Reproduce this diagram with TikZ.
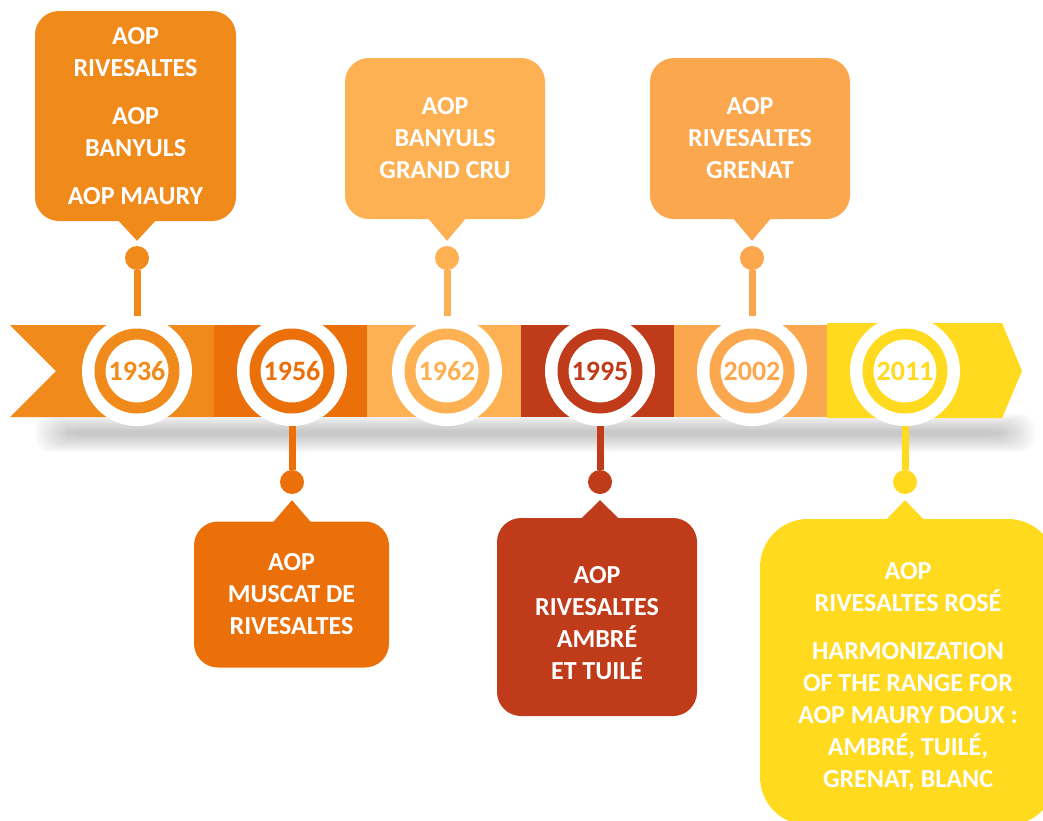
\documentclass[tikz,border=0pt]{standalone}
\usepackage{fontspec}
\setmainfont{Carlito}
\usetikzlibrary{calc}
\definecolor{cA}{HTML}{F08A1A}
\definecolor{cB}{HTML}{EC700A}
\definecolor{cC}{HTML}{FDB153}
\definecolor{cD}{HTML}{BF3B1A}
\definecolor{cE}{HTML}{FBA74E}
\definecolor{cF}{HTML}{FFDA1E}
\begin{document}
\begin{tikzpicture}[x=1pt,y=-1pt,
  yearnode/.style={circle,fill=white,minimum size=110pt,inner sep=0pt,
    font=\fontsize{28}{30}\selectfont\bfseries},
  dot/.style={circle,inner sep=0pt,minimum size=24pt},
  stem/.style={line width=7pt},
  boxtext/.style={inner sep=0pt,text=white,align=center,
    font=\fontsize{26}{32}\selectfont\bfseries},
  bubble/.style={boxtext,rounded corners=24pt}]
  \useasboundingbox (0,0) rectangle (1043,820);
  \clip (0,0) rectangle (1043,820);
  % shadow
  \foreach \i in {0,...,11}
    \fill[black,opacity=0.02,rounded corners=14pt] ({35+3*\i},{414+1.5*\i}) rectangle ({1035-3*\i},{452-1.5*\i});
  % bar
  \fill[cA] (10,325) -- (214,325) -- (214,417) -- (10,417) -- (56,371) -- cycle;
  \fill[cB] (214,325) rectangle (367,417);
  \fill[cC] (367,325) rectangle (521,417);
  \fill[cD] (521,325) rectangle (674,417);
  \fill[cE] (674,325) rectangle (827,417);
  \fill[cF] (827,323) -- (1002,323) -- (1022,371) -- (1002,418) -- (827,418) -- cycle;
  % years, stems and dots
  \foreach \yr/\x/\c/\dy in {1936/137/cA/258,1956/292/cB/482,1962/447/cC/258,
                             1995/600/cD/482,2002/752/cE/258,2011/905/cF/482}{
    \node[yearnode,text=\c] (y\yr) at (\x,371) {\yr};
    \draw[\c,line width=11pt] (y\yr.center) circle[radius=37pt];
    \node[dot,fill=\c] (d\yr) at (\x,\dy) {};
    \draw[stem,\c] (y\yr) -- (d\yr);
  }
  % callouts
  \node[bubble,fill=cA,minimum width=201pt,minimum height=210pt] (b1936) at (135.5,116)
    {AOP\\RIVESALTES\\[16pt]AOP\\BANYULS\\[16pt]AOP MAURY};
  \fill[cA] ($(b1936.south -| d1936)+(-19,-1)$) -- ([yshift=5pt]d1936.north) -- ($(b1936.south -| d1936)+(19,-1)$) -- cycle;
  \node[bubble,fill=cC,minimum width=200pt,minimum height=161pt] (b1962) at (445,138.5)
    {AOP\\BANYULS\\GRAND CRU};
  \fill[cC] ($(b1962.south -| d1962)+(-19,-1)$) -- ([yshift=5pt]d1962.north) -- ($(b1962.south -| d1962)+(19,-1)$) -- cycle;
  \node[bubble,fill=cE,minimum width=200pt,minimum height=161pt] (b2002) at (750,138.5)
    {AOP\\RIVESALTES\\GRENAT};
  \fill[cE] ($(b2002.south -| d2002)+(-19,-1)$) -- ([yshift=5pt]d2002.north) -- ($(b2002.south -| d2002)+(19,-1)$) -- cycle;
  \node[bubble,fill=cB,minimum width=195pt,minimum height=146pt] (b1956) at (291.5,594.5)
    {AOP\\MUSCAT DE\\RIVESALTES};
  \fill[cB] ($(b1956.north -| d1956)+(-19,1)$) -- ([yshift=-6pt]d1956.south) -- ($(b1956.north -| d1956)+(19,1)$) -- cycle;
  \node[bubble,fill=cD,minimum width=200pt,minimum height=198pt] (b1995) at (597,617) {};
  \node[boxtext] (t1995) at ([yshift=-6pt]b1995.center) {AOP\\RIVESALTES\\AMBRÉ\\ET TUILÉ};
  \fill[cD] ($(b1995.north -| d1995)+(-19,1)$) -- ([yshift=-6pt]d1995.south) -- ($(b1995.north -| d1995)+(19,1)$) -- cycle;
  \node[bubble,fill=cF,rounded corners=48pt,minimum width=296pt,minimum height=306pt] (b2011) at (908,672) {};
  \node[boxtext] (t2011) at ([yshift=-5pt]b2011.center)
    {AOP\\RIVESALTES ROSÉ\\[16pt]HARMONIZATION\\OF THE RANGE FOR\\AOP MAURY DOUX :\\AMBRÉ, TUILÉ,\\GRENAT, BLANC};
  \fill[cF] ($(b2011.north -| d2011)+(-19,1)$) -- ([yshift=-6pt]d2011.south) -- ($(b2011.north -| d2011)+(19,1)$) -- cycle;
\end{tikzpicture}
\end{document}
